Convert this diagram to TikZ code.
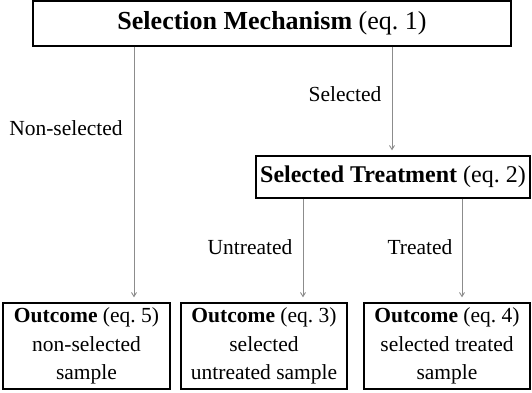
\documentclass[tikz,border=0pt]{standalone}
\usepackage{fontspec}
\setmainfont{Liberation Serif}
\usetikzlibrary{arrows.meta}
\begin{document}
\begin{tikzpicture}[x=1pt,y=-1pt,
  box/.style={draw=black, line width=1.4pt, inner sep=0pt, align=center, fill=white},
  conn/.style={draw=black!45, line width=0.9pt, shorten >=5pt, -{Straight Barb[length=4pt,width=5pt]}},
  lbl/.style={font=\fontsize{21.5}{25}\selectfont, inner sep=0pt},
  boxtext/.style={font=\fontsize{21.5}{28.5}\selectfont}]
\useasboundingbox (0,0) rectangle (532,392);
\node[box, minimum width=478pt, minimum height=45pt, font=\fontsize{26}{30}\selectfont] (sel) at (272,23.5) {\textbf{Selection Mechanism} (eq.~1)};
\node[box, minimum width=274pt, minimum height=42pt, font=\fontsize{24}{28}\selectfont] (trt) at (393,177) {\textbf{Selected Treatment} (eq.~2)};
\node[box, boxtext, minimum width=167pt, minimum height=86pt] (o5) at (86.5,346) {\textbf{Outcome} (eq.~5)\\non-selected\\sample};
\node[box, boxtext, minimum width=166pt, minimum height=86pt] (o3) at (264,346) {\textbf{Outcome} (eq.~3)\\selected\\untreated sample};
\node[box, boxtext, minimum width=166pt, minimum height=86pt] (o4) at (447,346) {\textbf{Outcome} (eq.~4)\\selected treated\\sample};
\coordinate (xa) at (134,0);
\coordinate (xb) at (392,0);
\coordinate (xc) at (303,0);
\coordinate (xd) at (462,0);
\draw[conn] (sel.south -| xa) -- (o5.north -| xa);
\draw[conn] (sel.south -| xb) -- (trt.north -| xb);
\draw[conn] (trt.south -| xc) -- (o3.north -| xc);
\draw[conn] (trt.south -| xd) -- (o4.north -| xd);
\node[lbl] (lns) at (66,128) {Non-selected};
\node[lbl] (ls) at (345,94) {Selected};
\node[lbl] (lu) at (250,247) {Untreated};
\node[lbl] (lt) at (420,247) {Treated};
\end{tikzpicture}
\end{document}
